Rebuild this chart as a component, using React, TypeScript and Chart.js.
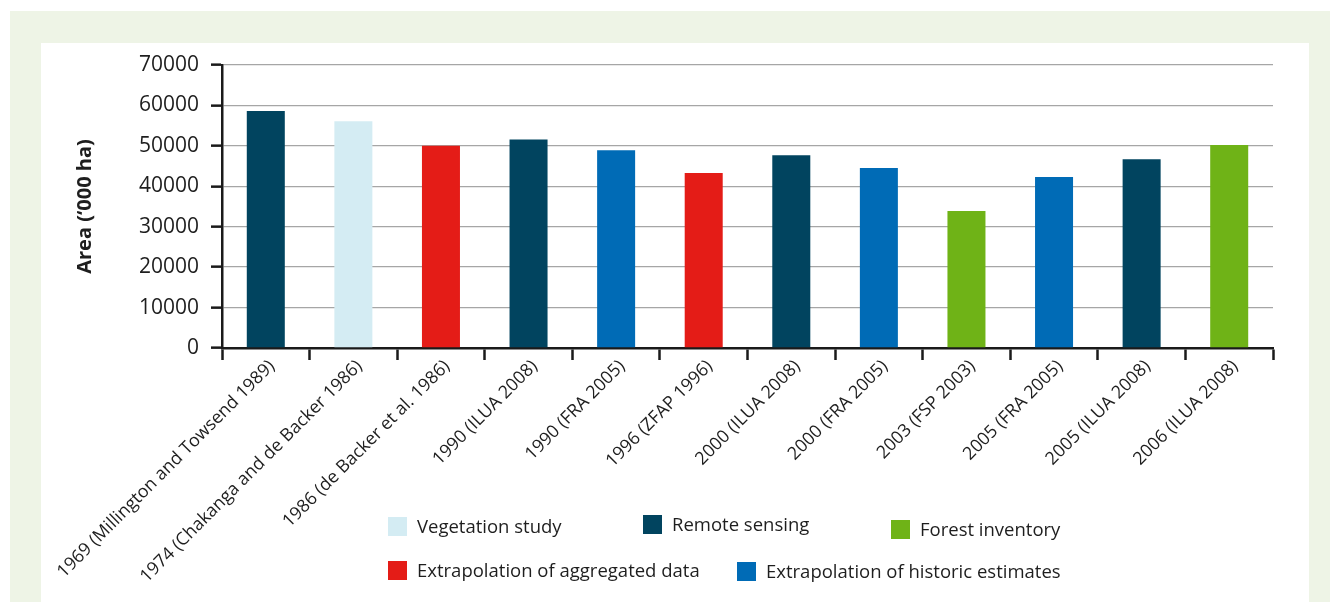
import React, { useEffect, useRef } from "react";
import { Chart, registerables } from "chart.js";

Chart.register(...registerables);

const categories = [
  "1969 (Millington and Towsend 1989)",
  "1974 (Chakanga and de Backer 1986)",
  "1986 (de Backer et al. 1986)",
  "1990 (ILUA 2008)",
  "1990 (FRA 2005)",
  "1996 (ZFAP 1996)",
  "2000 (ILUA 2008)",
  "2000 (FRA 2005)",
  "2003 (FSP 2003)",
  "2005 (FRA 2005)",
  "2005 (ILUA 2008)",
  "2006 (ILUA 2008)",
];

const areaValues = [58600, 56100, 50000, 51600, 48900, 43300, 47700, 44500, 33900, 42300, 46700, 50200];

const barMethods = [
  "Remote sensing",
  "Vegetation study",
  "Extrapolation of aggregated data",
  "Remote sensing",
  "Extrapolation of historic estimates",
  "Extrapolation of aggregated data",
  "Remote sensing",
  "Extrapolation of historic estimates",
  "Forest inventory",
  "Extrapolation of historic estimates",
  "Remote sensing",
  "Forest inventory",
];

const legendLabels = [
  "Vegetation study",
  "Remote sensing",
  "Forest inventory",
  "Extrapolation of aggregated data",
  "Extrapolation of historic estimates",
];

const legendColors = ["#d4ecf3", "#01445f", "#6fb317", "#e41c17", "#006bb6"];

const yAxisTitle = "Area (\u2018000 ha)";
const yMin = 0;
const yMax = 70000;
const yStep = 10000;

// layout (positions of legend items, px on page)
const legendLayout = [
  { left: 388, top: 517 },
  { left: 643, top: 515 },
  { left: 891, top: 520 },
  { left: 388, top: 561 },
  { left: 737, top: 562 },
];

const FONT = "'Open Sans', sans-serif";

export default function App() {
  const canvasRef = useRef<HTMLCanvasElement | null>(null);

  useEffect(() => {
    if (!canvasRef.current) return;
    const colorOf = (m: string) => legendColors[legendLabels.indexOf(m)];
    const chart = new Chart(canvasRef.current, {
      type: "bar",
      data: {
        labels: categories,
        datasets: [
          {
            data: areaValues,
            backgroundColor: barMethods.map(colorOf),
            borderWidth: 0,
            categoryPercentage: 1,
            barPercentage: 0.434,
          },
        ],
      },
      options: {
        responsive: false,
        animation: false,
        devicePixelRatio: 1,
        layout: { padding: { left: 0, top: 65, right: 57, bottom: 0 } },
        plugins: {
          legend: { display: false },
          tooltip: { enabled: false },
        },
        scales: {
          x: {
            afterFit: (s: any) => {
              s.height = 602 - 348;
            },
            grid: {
              display: true,
              drawOnChartArea: false,
              drawTicks: true,
              tickLength: 12,
              tickColor: "#1a1a1a",
              tickWidth: 2.5,
              offset: true,
            },
            border: { display: true, color: "#1a1a1a", width: 2.5 },
            ticks: {
              autoSkip: false,
              minRotation: 45,
              maxRotation: 45,
              padding: -4,
              labelOffset: 6,
              color: "#1e1e1e",
              font: { family: FONT, size: 17.8 },
            },
          },
          y: {
            min: yMin,
            max: yMax,
            afterFit: (s: any) => {
              s.width = 222;
            },
            grid: {
              color: "#a6a6a6",
              lineWidth: 1.3,
              drawTicks: true,
              tickLength: 11,
              tickColor: "#1a1a1a",
              tickWidth: 2.5,
            },
            border: { display: true, color: "#1a1a1a", width: 2.5 },
            ticks: {
              stepSize: yStep,
              padding: 12,
              color: "#1e1e1e",
              font: { family: FONT, size: 21 },
              callback: (v: any) => String(v),
            },
            title: {
              display: true,
              text: yAxisTitle,
              color: "#1e1e1e",
              font: { family: FONT, size: 20, weight: "bold" },
              padding: { top: 73, bottom: 0 },
            },
          },
        },
      },
    });
    return () => chart.destroy();
  }, []);

  return (
    <div style={{ position: "absolute", left: 0, top: 0, width: 1330, height: 602, background: "#fff", overflow: "hidden" }}>
      <div style={{ position: "absolute", left: 10, top: 11, width: 1320, height: 591, background: "#eef4e6" }} />
      <div style={{ position: "absolute", left: 41, top: 43, width: 1268, height: 559, background: "#fff" }} />
      <canvas ref={canvasRef} width={1330} height={602} style={{ position: "absolute", left: 0, top: 0, width: 1330, height: 602 }} />
      {legendLabels.map((label, i) => (
        <div
          key={label}
          style={{
            position: "absolute",
            left: legendLayout[i].left,
            top: legendLayout[i].top,
            display: "flex",
            alignItems: "center",
            height: 19,
            fontFamily: FONT,
            fontSize: 18.5,
            color: "#1e1e1e",
            whiteSpace: "nowrap",
          }}
        >
          <span style={{ display: "inline-block", width: 19, height: 19, background: legendColors[i], marginRight: 10 }} />
          <span style={{ lineHeight: "19px", position: "relative", top: -1 }}>{label}</span>
        </div>
      ))}
    </div>
  );
}
